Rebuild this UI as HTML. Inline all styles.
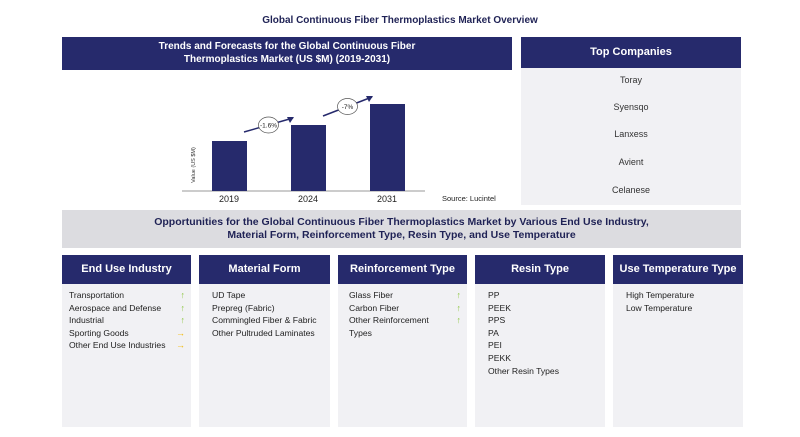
<!DOCTYPE html>
<html><head><meta charset="utf-8"><style>
*{margin:0;padding:0;box-sizing:border-box}
body{width:800px;height:437px;background:#fff;font-family:"Liberation Sans",Arial,sans-serif;position:relative;overflow:hidden;color:#222}
.abs{position:absolute}
.nav{background:#262a6c;color:#fff;font-weight:bold;text-align:center}
.panel{background:#f1f1f4}
.col .h{position:absolute;left:0;right:0;top:0;height:29px;line-height:29px;font-size:11px}
.col ul{list-style:none;position:absolute;top:34px;left:7px;right:6px;font-size:8.6px;line-height:12.6px;color:#222}
.col li{position:relative}
.ar{position:absolute;right:0;font-weight:bold;font-size:9px}
.up{color:#8cc63f}.rt{color:#f2b800}
</style></head><body>
<div class="abs" style="left:0;width:800px;top:15px;text-align:center;font-size:10px;font-weight:bold;color:#1f2255">Global Continuous Fiber Thermoplastics Market Overview</div>

<div class="abs nav" style="left:62px;top:37px;width:450px;height:33px;font-size:10px;line-height:13px;padding-top:3px">Trends and Forecasts for the Global Continuous Fiber<br>Thermoplastics Market (US $M) (2019-2031)</div>

<svg class="abs" style="left:62px;top:70px" width="450" height="140" id="chart"></svg>

<div class="abs nav" style="left:521px;top:37px;width:220px;height:31px;line-height:31px;font-size:11px">Top Companies</div>
<div class="abs panel" style="left:521px;top:68px;width:220px;height:137px;font-size:9px;text-align:center;color:#333">
<div style="position:absolute;top:7px;width:100%">Toray</div>
<div style="position:absolute;top:34px;width:100%">Syensqo</div>
<div style="position:absolute;top:61px;width:100%">Lanxess</div>
<div style="position:absolute;top:89px;width:100%">Avient</div>
<div style="position:absolute;top:117px;width:100%">Celanese</div>
</div>

<div class="abs" style="left:62px;top:210px;width:679px;height:38px;background:#dcdce0;text-align:center;font-weight:bold;font-size:10.5px;line-height:13px;padding-top:6px;color:#1f2255">Opportunities for the Global Continuous Fiber Thermoplastics Market by Various End Use Industry,<br>Material Form, Reinforcement Type, Resin Type, and Use Temperature</div>

<div class="abs panel col" style="left:62px;top:255px;width:129px;height:172px">
<div class="h nav">End Use Industry</div>
<ul><li>Transportation<span class="ar up">↑</span></li><li>Aerospace and Defense<span class="ar up">↑</span></li><li>Industrial<span class="ar up">↑</span></li><li>Sporting Goods<span class="ar rt">→</span></li><li>Other End Use Industries<span class="ar rt">→</span></li></ul></div>

<div class="abs panel col" style="left:199px;top:255px;width:131px;height:172px">
<div class="h nav">Material Form</div>
<ul style="left:13px"><li>UD Tape</li><li>Prepreg (Fabric)</li><li>Commingled Fiber &amp; Fabric</li><li>Other Pultruded Laminates</li></ul></div>

<div class="abs panel col" style="left:338px;top:255px;width:129px;height:172px">
<div class="h nav">Reinforcement Type</div>
<ul style="left:11px"><li>Glass Fiber<span class="ar up">↑</span></li><li>Carbon Fiber<span class="ar up">↑</span></li><li>Other Reinforcement<span class="ar up">↑</span></li><li>Types</li></ul></div>

<div class="abs panel col" style="left:475px;top:255px;width:130px;height:172px">
<div class="h nav">Resin Type</div>
<ul style="left:13px"><li>PP</li><li>PEEK</li><li>PPS</li><li>PA</li><li>PEI</li><li>PEKK</li><li>Other Resin Types</li></ul></div>

<div class="abs panel col" style="left:613px;top:255px;width:130px;height:172px">
<div class="h nav">Use Temperature Type</div>
<ul style="left:13px"><li>High Temperature</li><li>Low Temperature</li></ul></div>

<script>
const categories=["2019","2024","2031"];
const values=[50,66,87];
const cagrLabels=["-1.6%","-7%"];
const svg=document.getElementById('chart');
const NS='http://www.w3.org/2000/svg';
const baseY=121;
const yScale=v=>baseY - v;
const xCenter=i=>167+i*79;
function mk(t,a){const e=document.createElementNS(NS,t);for(const k in a)e.setAttribute(k,a[k]);svg.appendChild(e);return e;}
const axis=mk('line',{x1:120,x2:363,y1:baseY,y2:baseY,stroke:'#999','stroke-width':1});


categories.forEach((c,i)=>{
  const y=yScale(values[i]);
  const r=mk('rect',{x:xCenter(i)-17,y:y,width:35,height:baseY-y,fill:'#262a6c'});
  
  
  const t=mk('text',{x:xCenter(i),y:baseY+11,'text-anchor':'middle','font-size':9,fill:'#222'});
  t.textContent=c;
  
  
});
cagrLabels.forEach((l,i)=>{
  const x1=xCenter(i)+15,x2=xCenter(i+1)-15;
  const y1=yScale(values[i])-9,y2=yScale(values[i+1])-7;
  const ln=mk('line',{x1:x1,y1:y1,x2:x2,y2:y2,stroke:'#262a6c','stroke-width':1.5});
  
  
  mk('polygon',{points:`${x2+1},${y2-1} ${x2-6},${y2-1} ${x2-3},${y2+5}`,fill:'#262a6c'});
  const cx=(x1+x2)/2,cy=(y1+y2)/2;
  const c=mk('ellipse',{cx:cx,cy:cy,rx:10,ry:8,fill:'#fff',stroke:'#555','stroke-width':0.7});
  
  
  const t=mk('text',{x:cx,y:cy+2.5,'text-anchor':'middle','font-size':6.5,fill:'#222'});
  t.textContent=l;
});
const yt=mk('text',{transform:'translate(133,95) rotate(-90)','font-size':5.5,fill:'#333','text-anchor':'middle'});
yt.textContent='Value (US $M)';


const src=mk('text',{x:380,y:131,'font-size':7.5,fill:'#222'});
src.textContent='Source: Lucintel';


</script>
</body></html>
